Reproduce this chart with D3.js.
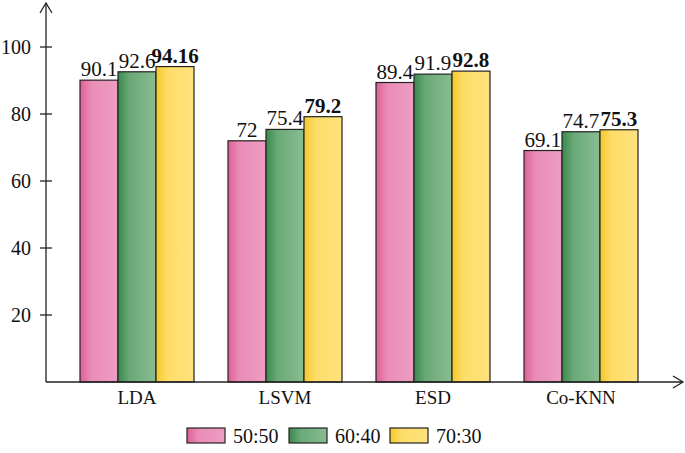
<!DOCTYPE html>
<html>
<head>
<meta charset="utf-8">
<script src="https://cdn.jsdelivr.net/npm/d3@7"></script>
<style>
  body { margin: 0; background: #fff; }
</style>
</head>
<body>
<div id="chart"></div>
<script>
// data
const methods = ["LDA", "LSVM", "ESD", "Co-KNN"];
const splits = ["50:50", "60:40", "70:30"];
const vals5050 = [90.1, 72, 89.4, 69.1];
const vals6040 = [92.6, 75.4, 91.9, 74.7];
const vals7030 = [94.16, 79.2, 92.8, 75.3];
const valueLabels = [
    ["90.1", "92.6", "94.16"],
    ["72", "75.4", "79.2"],
    ["89.4", "91.9", "92.8"],
    ["69.1", "74.7", "75.3"]
];
const yTicks = [20, 40, 60, 80, 100];

const width = 685, height = 453;
const font = "'Liberation Serif', 'Times New Roman', Times, 'DejaVu Serif', serif";

const svg = d3.select("#chart")
    .append("svg")
    .attr("width", width)
    .attr("height", height)
    .style("font-family", font);

// gradients for bars
const defs = svg.append("defs");
const grads = [
    {id: "g0", stops: ["#de5f97", "#ea8db6", "#ee9dc2"]},
    {id: "g1", stops: ["#3a894d", "#6aa977", "#88bc91"]},
    {id: "g2", stops: ["#f5c828", "#fddc68", "#fee27c"]}
];
grads.forEach(g => {
    const lg = defs.append("linearGradient").attr("id", g.id)
        .attr("x1", "0%").attr("x2", "100%").attr("y1", "0%").attr("y2", "0%");
    lg.append("stop").attr("offset", "0%").attr("stop-color", g.stops[0]);
    lg.append("stop").attr("offset", "30%").attr("stop-color", g.stops[1]);
    lg.append("stop").attr("offset", "100%").attr("stop-color", g.stops[2]);
});

const table = methods.map((m, i) => ({
    method: m,
    values: [vals5050[i], vals6040[i], vals7030[i]],
    labels: valueLabels[i]
}));

// scales
const x0 = d3.scaleBand()
    .domain(methods)
    .range([80, 638])
    .paddingInner(0.2297)
    .paddingOuter(0);
const x1 = d3.scaleBand()
    .domain(splits)
    .range([0, x0.bandwidth()]);
const y = d3.scaleLinear()
    .domain([0, 100])
    .range([382, 47]);

// bars
const groups = svg.append("g")
    .selectAll("g")
    .data(table)
    .join("g")
    .attr("transform", d => `translate(${x0(d.method)},0)`);

groups.selectAll("rect")
    .data(d => d.values.map((v, j) => ({v, j})))
    .join("rect")
    .attr("x", d => x1(splits[d.j]))
    .attr("y", d => y(d.v))
    .attr("width", x1.bandwidth())
    .attr("height", d => y(0) - y(d.v))
    .attr("fill", d => `url(#g${d.j})`)
    .attr("stroke", "#222")
    .attr("stroke-width", 1.2);

// value labels
groups.selectAll("text.val")
    .data(d => d.values.map((v, j) => ({v, j, label: d.labels[j]})))
    .join("text")
    .attr("class", "val")
    .attr("x", d => x1(splits[d.j]) + x1.bandwidth() / 2)
    .attr("y", d => y(d.v) - 4)
    .attr("text-anchor", "middle")
    .attr("fill", "#111")
    .style("font-size", "21px")
    .style("font-weight", d => d.j === 2 ? "bold" : "normal")
    .text(d => d.label);

// y axis
const axisX = 46;
svg.append("line")
    .attr("x1", axisX).attr("x2", axisX)
    .attr("y1", y(0)).attr("y2", 3)
    .attr("stroke", "#222").attr("stroke-width", 1.3);
svg.append("path")
    .attr("d", `M${axisX - 6},13 L${axisX},3 L${axisX + 6},13`)
    .attr("fill", "none").attr("stroke", "#222").attr("stroke-width", 1.3);

const yAxis = svg.append("g");
yAxis.selectAll("line")
    .data(yTicks)
    .join("line")
    .attr("x1", axisX - 6).attr("x2", axisX + 6)
    .attr("y1", d => y(d)).attr("y2", d => y(d))
    .attr("stroke", "#222").attr("stroke-width", 1.3);
yAxis.selectAll("text")
    .data(yTicks)
    .join("text")
    .attr("x", 31)
    .attr("y", d => y(d))
    .attr("dy", "0.33em")
    .attr("text-anchor", "end")
    .attr("fill", "#111")
    .style("font-size", "20px")
    .text(d => d);

// x axis
svg.append("line")
    .attr("x1", axisX).attr("x2", 683)
    .attr("y1", y(0)).attr("y2", y(0))
    .attr("stroke", "#222").attr("stroke-width", 1.3);
svg.append("path")
    .attr("d", `M673,${y(0) - 6} L683,${y(0)} L673,${y(0) + 6}`)
    .attr("fill", "none").attr("stroke", "#222").attr("stroke-width", 1.3);

svg.append("g")
    .selectAll("text")
    .data(methods)
    .join("text")
    .attr("x", d => x0(d) + x0.bandwidth() / 2)
    .attr("y", 404)
    .attr("text-anchor", "middle")
    .attr("fill", "#111")
    .style("font-size", "19px")
    .text(d => d);

// legend
const legendX = [187, 289, 390];
const legend = svg.append("g")
    .selectAll("g")
    .data(splits)
    .join("g")
    .attr("transform", (d, i) => `translate(${legendX[i]},428)`);
legend.append("rect")
    .attr("width", 38).attr("height", 15)
    .attr("fill", (d, i) => `url(#g${i})`)
    .attr("stroke", "#222").attr("stroke-width", 1.2);
legend.append("text")
    .attr("x", 46).attr("y", 8)
    .attr("dy", "0.33em")
    .attr("fill", "#111")
    .style("font-size", "20px")
    .text(d => d);
</script>
</body>
</html>
